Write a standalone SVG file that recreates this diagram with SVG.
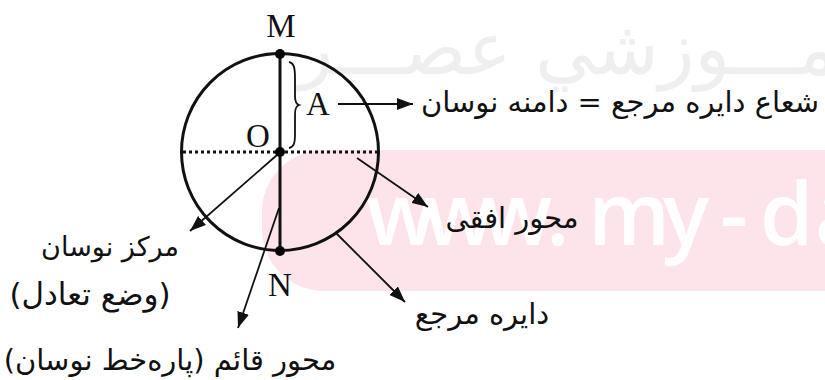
<svg xmlns="http://www.w3.org/2000/svg" width="825" height="380" viewBox="0 0 825 380">
<defs>
<style>
.fa{font-family:"DejaVu Sans",sans-serif;font-size:29px;fill:#111;text-anchor:middle}
.lat{font-family:"Liberation Serif",serif;font-size:33px;fill:#111}
.ln{stroke:#111;stroke-width:1.8;fill:none}
.thick{stroke:#111;stroke-width:3;fill:none}
</style>
<marker id="ah" viewBox="0 0 16 12" refX="16" refY="6" markerWidth="16" markerHeight="12" markerUnits="userSpaceOnUse" orient="auto">
<path d="M0,0 L16,6 L0,12 z" fill="#111"/>
</marker>
</defs>
<rect width="825" height="380" fill="#fff"/>
<g id="watermark">
<rect x="262" y="150" width="640" height="141" rx="62" fill="#fde4ea"/>
<text x="366 424 482 546 588 663 720 760 815" y="245" font-family="Open Sans, sans-serif" font-weight="600" font-size="86" fill="#fff">www.my-da</text>
<text x="858" y="74" font-family="DejaVu Sans, sans-serif" font-size="74" fill="#efefef" text-anchor="end">آمـــوزشي عصـــر</text>
</g>
<g id="circle">
<circle cx="280" cy="152" r="98.5" class="thick"/>
<line x1="183" y1="152" x2="378" y2="152" stroke="#111" stroke-width="3" stroke-dasharray="3,3"/>
<line x1="280" y1="54" x2="280" y2="251" class="thick"/>
</g>
<g id="brace">
<path class="ln" stroke-width="2.5" d="M289,62 C294,63 295,68 295,78 L295,96 C295,101 296,104 299,105 C296,106 295,109 295,114 L295,134 C295,143 294,147 289,148"/>
</g>
<g id="M"><circle cx="280" cy="54" r="5"/><text class="lat" x="281" y="37" text-anchor="middle">M</text></g>
<g id="O"><circle cx="280" cy="152" r="5"/><text class="lat" x="258" y="147" text-anchor="middle">O</text></g>
<g id="N"><circle cx="280" cy="251" r="5"/><text class="lat" x="280" y="296" text-anchor="middle">N</text></g>
<g id="A"><text class="lat" x="318" y="115" text-anchor="middle">A</text></g>
<g id="connectors">
<line class="ln" x1="338" y1="104" x2="413" y2="104" marker-end="url(#ah)"/>
<line class="ln" x1="277" y1="155" x2="190" y2="231" marker-end="url(#ah)"/>
<line class="ln" x1="279" y1="208" x2="238" y2="328" marker-end="url(#ah)"/>
<line class="ln" x1="357" y1="158" x2="428" y2="207" marker-end="url(#ah)"/>
<line class="ln" x1="336" y1="233" x2="405" y2="302" marker-end="url(#ah)"/>
</g>
<g id="label-radius"><text class="fa" x="620" y="112">شعاع دایره مرجع = دامنه نوسان</text></g>
<g id="label-horizontal"><text class="fa" x="512" y="228">محور افقی</text></g>
<g id="label-center"><text class="fa" x="110" y="256" style="font-size:27px">مرکز نوسان</text><text class="fa" x="90" y="305" style="font-size:31px">(وضع تعادل)</text></g>
<g id="label-vertical"><text class="fa" x="170" y="370">محور قائم (پاره‌خط نوسان)</text></g>
<g id="label-circle"><text class="fa" x="482" y="324">دایره مرجع</text></g>
</svg>
